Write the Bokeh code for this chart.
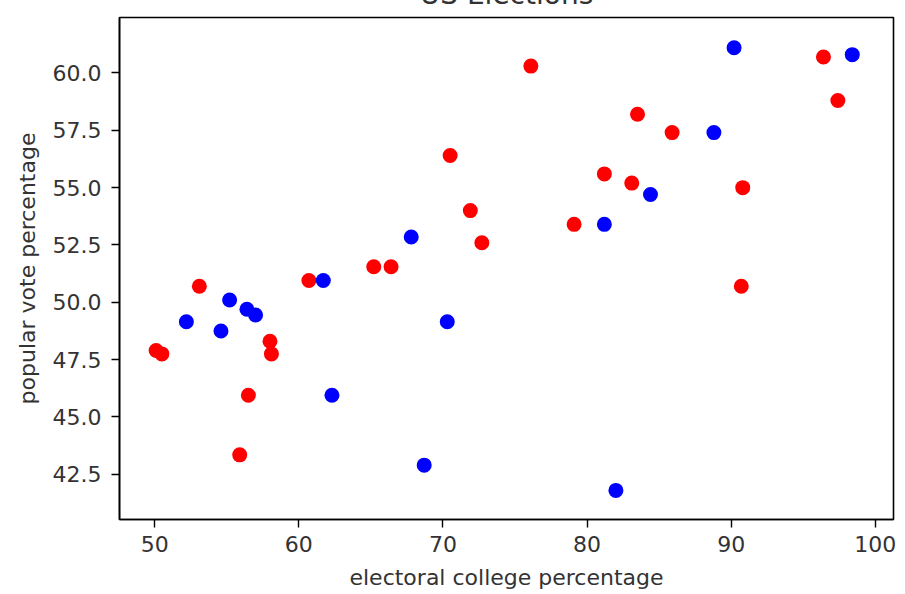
from bokeh.plotting import figure
from bokeh.models import FixedTicker, NumeralTickFormatter, Range1d
from bokeh.embed import file_html
from bokeh.resources import INLINE

# Republican (red) and Democratic (blue) wins: electoral college % vs popular vote %
red_electoral = [50.1, 50.5, 53.1, 55.9, 56.5, 58.0, 58.1, 60.7, 65.2, 66.4, 70.5, 71.9,
                 72.7, 76.1, 79.1, 81.2, 83.1, 83.5, 85.9, 90.7, 90.8, 96.4, 97.4]
red_popular = [47.9, 47.75, 50.7, 43.35, 45.95, 48.3, 47.75, 50.95, 51.55, 51.55, 56.4, 54.0,
               52.6, 60.3, 53.4, 55.6, 55.2, 58.2, 57.4, 50.7, 55.0, 60.7, 58.8]
blue_electoral = [52.2, 54.6, 55.2, 56.4, 57.0, 61.7, 62.3, 67.8, 68.7, 70.3, 81.2, 82.0,
                  84.4, 88.8, 90.2, 98.4]
blue_popular = [49.15, 48.75, 50.1, 49.7, 49.45, 50.95, 45.95, 52.85, 42.9, 49.15, 53.4, 41.8,
                54.7, 57.4, 61.1, 60.8]

x_ticks = [50, 60, 70, 80, 90, 100]
y_ticks = [42.5, 45.0, 47.5, 50.0, 52.5, 55.0, 57.5, 60.0]

FONT = "DejaVu Sans"
TXT = "#333333"

p = figure(width=900, height=625, output_backend="svg", toolbar_location=None,
           title="US Elections",
           x_range=Range1d(47.56, 101.26), y_range=Range1d(40.53, 62.42),
           min_border_left=119, min_border_right=7, min_border_top=50, min_border_bottom=72,
           styles={"margin-top": "-33px"})

p.title.align = "center"
p.title.text_font = FONT
p.title.text_font_size = "28px"
p.title.text_font_style = "normal"
p.title.text_color = TXT
p.title.standoff = 13

p.scatter(red_electoral, red_popular, size=15, color="#ff0000", line_color=None)
p.scatter(blue_electoral, blue_popular, size=15, color="#0000ff", line_color=None)

p.xgrid.visible = False
p.ygrid.visible = False
p.background_fill_color = "white"
p.border_fill_color = "white"
p.outline_line_color = "#000000"
p.outline_line_width = 1.6

for ax in (p.xaxis[0], p.yaxis[0]):
    ax.axis_line_color = "#000000"
    ax.axis_line_width = 1.6
    ax.major_tick_line_color = "#000000"
    ax.major_tick_line_width = 1.4
    ax.major_tick_in = 0
    ax.major_tick_out = 8
    ax.minor_tick_line_color = None
    ax.major_label_text_font = FONT
    ax.major_label_text_font_size = "22px"
    ax.major_label_text_color = TXT
    ax.axis_label_text_font = FONT
    ax.axis_label_text_font_size = "22px"
    ax.axis_label_text_font_style = "normal"
    ax.axis_label_text_color = TXT

p.xaxis.ticker = FixedTicker(ticks=x_ticks)
p.yaxis.ticker = FixedTicker(ticks=y_ticks)
p.xaxis.formatter = NumeralTickFormatter(format="0")
p.yaxis.formatter = NumeralTickFormatter(format="0.0")
p.xaxis.major_label_standoff = 8
p.yaxis.major_label_standoff = 10
p.xaxis.axis_label = "electoral college percentage"
p.yaxis.axis_label = "popular vote percentage"
p.xaxis.axis_label_standoff = 10
p.yaxis.axis_label_standoff = 10

open("out.html", "w").write(file_html(p, INLINE))
